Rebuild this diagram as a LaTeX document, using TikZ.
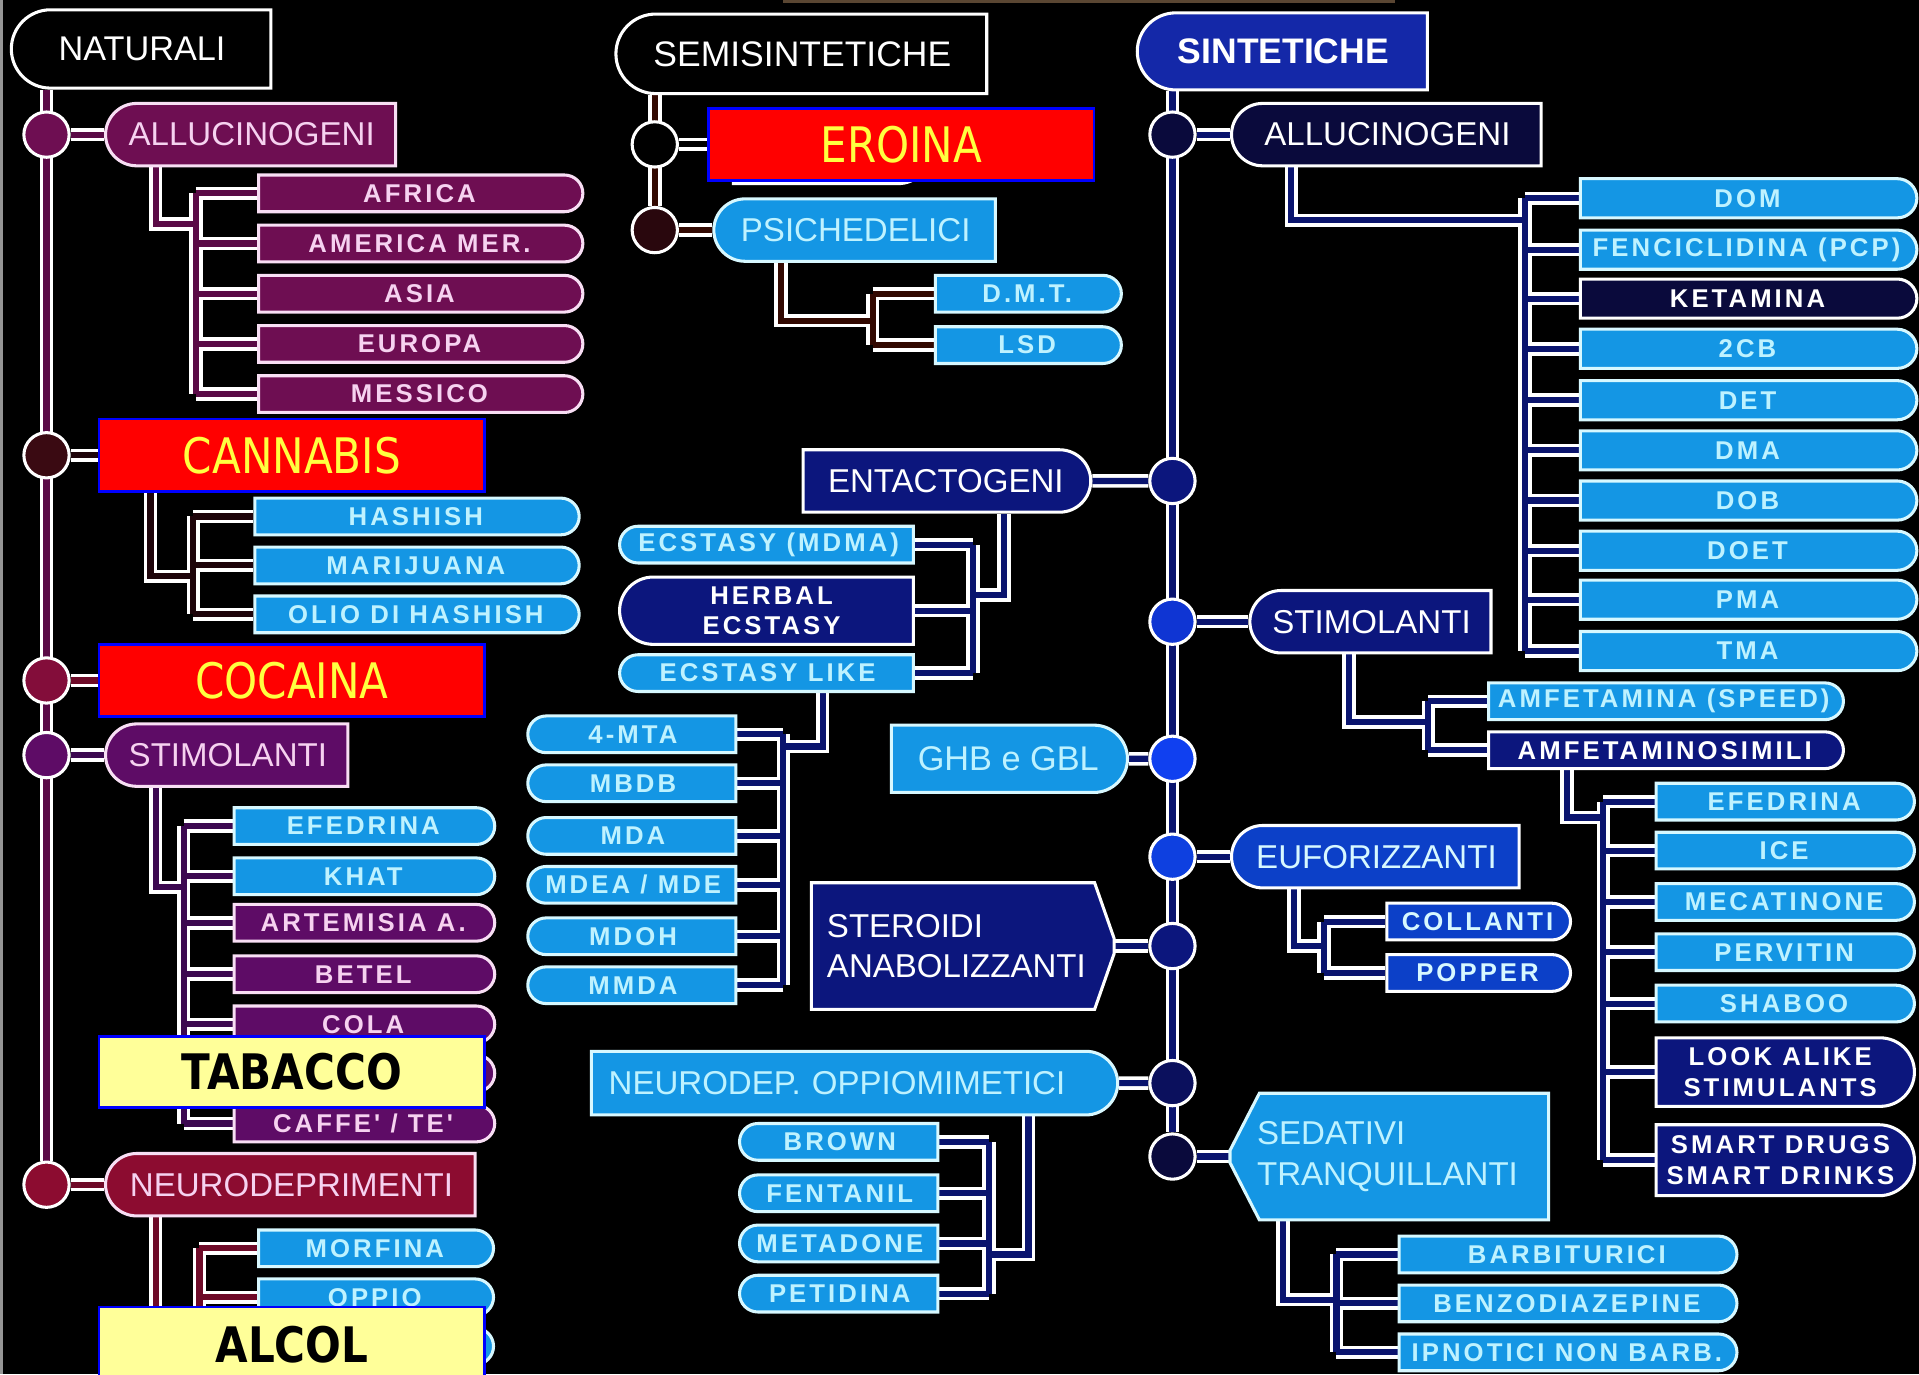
\documentclass[tikz,border=0pt]{standalone}
\usepackage{fontspec}
\setmainfont{Liberation Sans}
\newfontfamily\leafface[LetterSpace=12]{Liberation Sans}
\newfontfamily\markface[FakeStretch=0.86]{DejaVu Sans}
\usetikzlibrary{shapes.misc}
\pgfdeclarelayer{canvas}
\pgfdeclarelayer{wires}
\pgfdeclarelayer{plates}
\pgfsetlayers{canvas,wires,plates,main}
\definecolor{plum}{RGB}{110,14,82}
\definecolor{plumLine}{RGB}{248,222,244}
\definecolor{plumText}{RGB}{246,210,240}
\definecolor{violetDeep}{RGB}{94,12,102}
\definecolor{wine}{RGB}{140,12,48}
\definecolor{cocoa}{RGB}{58,10,18}
\definecolor{sky}{RGB}{20,150,228}
\definecolor{skyLine}{RGB}{215,248,255}
\definecolor{skyText}{RGB}{190,242,255}
\definecolor{navy}{RGB}{12,22,125}
\definecolor{nightNavy}{RGB}{10,10,60}
\definecolor{royal}{RGB}{20,40,168}
\definecolor{cobalt}{RGB}{12,64,200}
\definecolor{electric}{RGB}{16,64,240}
\definecolor{alertRed}{RGB}{255,0,0}
\definecolor{alertYellow}{RGB}{255,255,64}
\definecolor{paleYellow}{RGB}{255,255,153}
\definecolor{plumWire}{RGB}{90,10,70}
\definecolor{cocoaWire}{RGB}{30,4,10}
\definecolor{violetWire}{RGB}{60,8,80}
\definecolor{wineWire}{RGB}{110,10,40}
\definecolor{brownWire}{RGB}{50,8,0}
\definecolor{navyWire}{RGB}{10,20,110}
\definecolor{rimGrey}{RGB}{150,150,150}
\definecolor{rimBrown}{RGB}{90,70,50}
\tikzset{
	head/.style={
		rounded rectangle,
		rounded rectangle east arc=none,
		anchor=west,
		line width=2.5pt,
		minimum height=51pt,
		inner sep=0pt,
		font=\fontsize{27}{33}\selectfont,
	},
	headR/.style={head, rounded rectangle west arc=none, rounded rectangle east arc=convex},
	leaf/.style={
		rounded rectangle,
		rounded rectangle west arc=none,
		anchor=west,
		line width=2.5pt,
		minimum height=30pt,
		inner sep=0pt,
		align=center,
		font=\leafface\bfseries\fontsize{21}{25}\selectfont,
	},
	leafL/.style={leaf, rounded rectangle west arc=convex, rounded rectangle east arc=none},
	plate/.style={
		rectangle,
		anchor=west,
		inner sep=0pt,
		align=left,
		font=\fontsize{27}{33}\selectfont,
	},
	plumbox/.style={fill=plum, draw=plumLine, text=plumText},
	violetbox/.style={fill=violetDeep, draw=plumLine, text=plumText},
	winebox/.style={fill=wine, draw=plumLine, text=plumText},
	skybox/.style={fill=sky, draw=skyLine, text=skyText},
	navybox/.style={fill=navy, draw=white, text=white},
	nightbox/.style={fill=nightNavy, draw=white, text=white},
	royalbox/.style={fill=royal, draw=white, text=white},
	cobaltbox/.style={fill=cobalt, draw=white, text=skyLine},
	blackbox/.style={fill=black, draw=white, text=white},
	hub/.style={circle, draw=white, line width=2.5pt, minimum size=37pt, inner sep=0pt},
	link/.style={draw=white, line width=3pt, double=#1, double distance=5pt},
	redmark/.style={
		rectangle,
		anchor=west,
		fill=alertRed,
		draw=blue,
		line width=2pt,
		text=alertYellow,
		minimum width=315pt,
		minimum height=59pt,
		font=\markface\fontsize{40}{40}\selectfont,
	},
	yellowtag/.style={redmark, fill=paleYellow, text=black, font=\markface\bfseries\fontsize{40}{40}\selectfont},
}
% #1 wire colour, #2 start, #3 bus x, #4 bend y, #5 child anchor, #6 first, #7 last, #8 children
\newcommand{\branch}[8]{%
	\draw[link=#1] (#2) |- (#3,#4) (#3,0 |- #6.#5) -- (#3,0 |- #7.#5)
	\foreach \kid in {#8}{ (#3,0 |- \kid.#5) -- (\kid.#5) };
}
\begin{document}
\begin{tikzpicture}[x=1pt, y=-1pt]
	\clip (0,0) rectangle (1568,1123);
	\begin{pgfonlayer}{canvas}
		\fill[black] (0,0) rectangle (1568,1123);
		\draw[rimGrey, line width=3pt] (1,0) -- (1,1123);
		\draw[rimBrown, line width=3pt] (640,1) -- (1140,1);
	\end{pgfonlayer}
	
	% --- Naturali ---
	\node[head, blackbox, minimum width=212pt, minimum height=64pt, font=\fontsize{28}{30}\selectfont] (nat) at (8,40) {NATURALI};
	\node[hub, fill=plum] (c1) at (38,110) {};
	\node[head, plumbox, minimum width=237pt] (alluc) at (85,110) {ALLUCINOGENI};
	\node[leaf, plumbox, minimum width=265pt] (afr) at (210,158) {AFRICA};
	\node[leaf, plumbox, minimum width=265pt] (ame) at (210,199) {AMERICA MER.};
	\node[leaf, plumbox, minimum width=265pt] (asi) at (210,240) {ASIA};
	\node[leaf, plumbox, minimum width=265pt] (eur) at (210,281) {EUROPA};
	\node[leaf, plumbox, minimum width=265pt] (mes) at (210,322) {MESSICO};
	\node[hub, fill=cocoa] (c2) at (38,372) {};
	\node[leaf, skybox, minimum width=265pt] (has) at (207,422) {HASHISH};
	\node[leaf, skybox, minimum width=265pt] (mar) at (207,462) {MARIJUANA};
	\node[leaf, skybox, minimum width=265pt] (olio) at (207,502) {OLIO DI HASHISH};
	\node[hub, fill=wine!70!plum] (c3) at (38,556) {};
	\node[hub, fill=violetDeep] (c4) at (38,617) {};
	\node[head, violetbox, minimum width=198pt] (stim1) at (85,617) {STIMOLANTI};
	\node[leaf, skybox, minimum width=213pt] (efe1) at (190,675) {EFEDRINA};
	\node[leaf, skybox, minimum width=213pt] (khat) at (190,716) {KHAT};
	\node[leaf, violetbox, minimum width=213pt] (art) at (190,754) {ARTEMISIA A.};
	\node[leaf, violetbox, minimum width=213pt] (bet) at (190,796) {BETEL};
	\node[leaf, violetbox, minimum width=213pt] (cola) at (190,837) {COLA};
	\node[leaf, violetbox, minimum width=213pt] (tab0) at (190,877) {};
	\node[leaf, violetbox, minimum width=213pt] (caf) at (190,918) {CAFFE' / TE'};
	\node[hub, fill=wine] (c5) at (38,968) {};
	\node[head, winebox, minimum width=302pt] (neuro) at (85,968) {NEURODEPRIMENTI};
	\node[leaf, skybox, minimum width=192pt] (morf) at (210,1020) {MORFINA};
	\node[leaf, skybox, minimum width=192pt] (opp) at (210,1060) {OPPIO};
	\node[leaf, skybox, minimum width=192pt] (alc0) at (210,1100) {};
	
	% --- Semisintetiche ---
	\node[head, blackbox, minimum width=303pt, minimum height=65pt, font=\fontsize{29}{30}\selectfont] (semi) at (502,44) {SEMISINTETICHE};
	\node[hub, fill=black] (c6) at (535,118) {};
	\node[leaf, blackbox, minimum width=160pt, minimum height=50pt] (ero0) at (598,125) {};
	\node[hub, fill=cocoa!70!black] (c7) at (535,188) {};
	\node[head, skybox, minimum width=230pt] (psi) at (582,188) {PSICHEDELICI};
	\node[leaf, skybox, minimum width=152pt] (dmt) at (763,240) {D.M.T.};
	\node[leaf, skybox, minimum width=152pt] (lsd) at (763,282) {LSD};
	
	\node[headR, navybox, minimum width=235pt] (ent) at (655,393) {ENTACTOGENI};
	\node[leafL, skybox, minimum width=240pt] (mdma) at (505,445) {ECSTASY (MDMA)};
	\node[leafL, navybox, minimum width=240pt, minimum height=55pt] (herb) at (505,499) {HERBAL\\ECSTASY};
	\node[leafL, skybox, minimum width=240pt] (elike) at (505,550) {ECSTASY LIKE};
	\node[leafL, skybox, minimum width=170pt] (mta) at (430,600) {4-MTA};
	\node[leafL, skybox, minimum width=170pt] (mbdb) at (430,640) {MBDB};
	\node[leafL, skybox, minimum width=170pt] (mda) at (430,683) {MDA};
	\node[leafL, skybox, minimum width=170pt] (mdea) at (430,723) {MDEA / MDE};
	\node[leafL, skybox, minimum width=170pt] (mdoh) at (430,765) {MDOH};
	\node[leafL, skybox, minimum width=170pt] (mmda) at (430,805) {MMDA};
	
	\node[headR, skybox, minimum width=193pt, minimum height=55pt, font=\fontsize{28}{30}\selectfont] (ghb) at (727,620) {GHB e GBL};
	\node[plate, text=white, minimum width=247pt, minimum height=103pt, text width=222pt] (ster) at (663,773) {STEROIDI\\ANABOLIZZANTI};
	\node[headR, skybox, minimum width=430pt, minimum height=52pt, text width=400pt, align=left] (nop) at (482,885) {NEURODEP. OPPIOMIMETICI};
	\node[leafL, skybox, minimum width=162pt] (brown) at (603,933) {BROWN};
	\node[leafL, skybox, minimum width=162pt] (fent) at (603,975) {FENTANIL};
	\node[leafL, skybox, minimum width=162pt] (meta) at (603,1016) {METADONE};
	\node[leafL, skybox, minimum width=162pt] (pet) at (603,1057) {PETIDINA};
	
	% --- Sintetiche ---
	\node[head, royalbox, minimum width=237pt, minimum height=63pt, font=\bfseries\fontsize{29}{30}\selectfont] (sint) at (928,42) {SINTETICHE};
	\node[hub, fill=nightNavy] (c12) at (958,110) {};
	\node[head, nightbox, minimum width=253pt] (alluc2) at (1005,110) {ALLUCINOGENI};
	\node[leaf, skybox, minimum width=275pt, minimum height=32pt] (dom) at (1290,162) {DOM};
	\node[leaf, skybox, minimum width=275pt, minimum height=32pt] (pcp) at (1290,204) {FENCICLIDINA (PCP)};
	\node[leaf, nightbox, minimum width=275pt, minimum height=32pt] (ket) at (1290,244) {KETAMINA};
	\node[leaf, skybox, minimum width=275pt, minimum height=32pt] (cb) at (1290,285) {2CB};
	\node[leaf, skybox, minimum width=275pt, minimum height=32pt] (det) at (1290,327) {DET};
	\node[leaf, skybox, minimum width=275pt, minimum height=32pt] (dma) at (1290,368) {DMA};
	\node[leaf, skybox, minimum width=275pt, minimum height=32pt] (dob) at (1290,409) {DOB};
	\node[leaf, skybox, minimum width=275pt, minimum height=32pt] (doet) at (1290,450) {DOET};
	\node[leaf, skybox, minimum width=275pt, minimum height=32pt] (pma) at (1290,490) {PMA};
	\node[leaf, skybox, minimum width=275pt, minimum height=32pt] (tma) at (1290,532) {TMA};
	\node[hub, fill=navy] (c8) at (958,393) {};
	\node[hub, fill=electric!75!navy] (c14) at (958,508) {};
	\node[head, navybox, minimum width=197pt] (stim2) at (1020,508) {STIMOLANTI};
	\node[leaf, skybox, minimum width=290pt] (amf) at (1215,573) {AMFETAMINA (SPEED)};
	\node[leaf, navybox, minimum width=290pt] (amfs) at (1215,613) {AMFETAMINOSIMILI};
	\node[leaf, skybox, minimum width=211pt] (efe2) at (1352,655) {EFEDRINA};
	\node[leaf, skybox, minimum width=211pt] (ice) at (1352,695) {ICE};
	\node[leaf, skybox, minimum width=211pt] (meca) at (1352,737) {MECATINONE};
	\node[leaf, skybox, minimum width=211pt] (perv) at (1352,778) {PERVITIN};
	\node[leaf, skybox, minimum width=211pt] (shab) at (1352,820) {SHABOO};
	\node[leaf, navybox, minimum width=211pt, minimum height=56pt] (look) at (1352,876) {LOOK ALIKE\\STIMULANTS};
	\node[leaf, navybox, minimum width=211pt, minimum height=58pt] (smart) at (1352,948) {SMART DRUGS\\SMART DRINKS};
	\node[hub, fill=electric] (c9) at (958,620) {};
	\node[hub, fill=electric!60!cobalt] (c15) at (958,700) {};
	\node[head, cobaltbox, minimum width=235pt] (euf) at (1005,700) {EUFORIZZANTI};
	\node[leaf, cobaltbox, minimum width=150pt] (coll) at (1132,753) {COLLANTI};
	\node[leaf, cobaltbox, minimum width=150pt] (pop) at (1132,795) {POPPER};
	\node[hub, fill=navy] (c10) at (958,773) {};
	\node[hub, fill=nightNavy!50!navy] (c11) at (958,885) {};
	\node[hub, fill=nightNavy] (c13) at (958,945) {};
	\node[plate, text=skyText, minimum width=260pt, minimum height=103pt, text width=216pt] (sed) at (1005,945) {SEDATIVI\\TRANQUILLANTI};
	\node[leaf, skybox, minimum width=276pt] (barb) at (1142,1025) {BARBITURICI};
	\node[leaf, skybox, minimum width=276pt] (benz) at (1142,1065) {BENZODIAZEPINE};
	\node[leaf, skybox, minimum width=276pt] (ipn) at (1142,1105) {IPNOTICI NON BARB.};
	
	% --- Overlaid labels ---
	\node[redmark] (can) at (80,372) {CANNABIS};
	\node[redmark] (coc) at (80,556) {COCAINA};
	\node[yellowtag, minimum height=58pt] (tab) at (80,876) {TABACCO};
	\node[yellowtag, minimum height=62pt] (alc) at (80,1099) {ALCOL};
	\node[redmark] (ero) at (578,118) {EROINA};
	
	% --- Bevelled plates behind the two-line labels ---
	\begin{pgfonlayer}{plates}
		\filldraw[navybox, line width=2.5pt] (ster.north west) -- ([xshift=-16pt]ster.north east)
			-- ([yshift=6pt]ster.east) -- ([yshift=-6pt]ster.east)
			-- ([xshift=-16pt]ster.south east) -- (ster.south west) -- cycle;
		\filldraw[skybox, line width=2.5pt] (sed.north east) -- ([xshift=24pt]sed.north west)
			-- ([yshift=5pt]sed.west) -- ([yshift=-5pt]sed.west)
			-- ([xshift=24pt]sed.south west) -- (sed.south east) -- cycle;
	\end{pgfonlayer}
	
	% --- Wires ---
	\begin{pgfonlayer}{wires}
		\draw[link=plumWire] (c1 |- nat.south) -- (c5);
		\draw[link=brownWire] (c6 |- semi.south) -- (c7);
		\draw[link=navyWire] (c12 |- sint.south) -- (c13);
		\draw[link=plumWire] (c1) -- (alluc);
		\draw[link=cocoaWire] (c2) -- (can);
		\draw[link=wineWire] (c3) -- (coc);
		\draw[link=violetWire] (c4) -- (stim1);
		\draw[link=wineWire] (c5) -- (neuro);
		\draw[link=black] (c6) -- (ero);
		\draw[link=brownWire] (c7) -- (psi);
		\draw[link=navyWire] (c12) -- (alluc2);
		\draw[link=navyWire] (c8) -- (ent);
		\draw[link=navyWire] (c14) -- (stim2);
		\draw[link=navyWire] (c9) -- (ghb);
		\draw[link=navyWire] (c15) -- (euf);
		\draw[link=navyWire] (c10) -- (ster);
		\draw[link=navyWire] (c11) -- (nop);
		\draw[link=navyWire] (c13) -- (sed);
		
		\branch{plumWire}{[xshift=-78.5pt]alluc.south}{160}{183}{west}{afr}{mes}{afr,ame,asi,eur,mes}
		\branch{cocoaWire}{[xshift=-115.5pt]can.south}{158}{471}{west}{has}{olio}{has,mar,olio}
		\branch{violetWire}{[xshift=-59pt]stim1.south}{150}{725}{west}{efe1}{caf}{efe1,khat,art,bet,cola,tab0,caf}
		\branch{wineWire}{[xshift=-111pt]neuro.south}{163}{1080}{west}{morf}{alc0}{morf,opp,alc0}
		\branch{brownWire}{[xshift=-61pt]psi.south}{713}{262}{west}{dmt}{lsd}{dmt,lsd}
		\branch{navyWire}{[xshift=47.5pt]ent.south}{795}{486}{east}{mdma}{elike}{mdma,herb,elike}
		\branch{navyWire}{[xshift=45pt]elike.south}{640}{610}{east}{mta}{mmda}{mta,mbdb,mda,mdea,mdoh,mmda}
		\branch{navyWire}{[xshift=143pt]nop.south}{808}{1025}{east}{brown}{pet}{brown,fent,meta,pet}
		\branch{navyWire}{[xshift=-78.5pt]alluc2.south}{1246}{180}{west}{dom}{tma}{dom,pcp,ket,cb,det,dma,dob,doet,pma,tma}
		\branch{navyWire}{[xshift=-18.5pt]stim2.south}{1167}{590}{west}{amf}{amfs}{amf,amfs}
		\branch{navyWire}{[xshift=-80pt]amfs.south}{1310}{668}{west}{efe2}{smart}{efe2,ice,meca,perv,shab,look,smart}
		\branch{navyWire}{[xshift=-67.5pt]euf.south}{1082}{773}{west}{coll}{pop}{coll,pop}
		\branch{navyWire}{[xshift=-87pt]sed.south}{1092}{1062}{west}{barb}{ipn}{barb,benz,ipn}
	\end{pgfonlayer}
\end{tikzpicture}
\end{document}
